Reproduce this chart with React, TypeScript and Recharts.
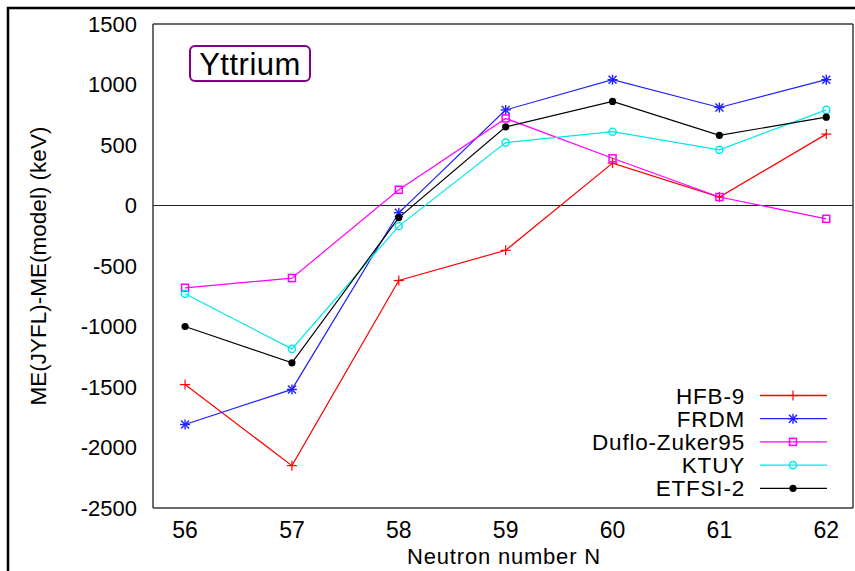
import { LineChart, Line, XAxis, YAxis, ReferenceLine } from "recharts";

const neutronNumbers = [56, 57, 58, 59, 60, 61, 62];
const hfb9 = [-1480, -2150, -620, -370, 350, 70, 590];
const frdm = [-1810, -1520, -60, 790, 1040, 810, 1040];
const dufloZuker95 = [-680, -600, 130, 720, 390, 70, -110];
const ktuy = [-730, -1185, -170, 520, 610, 460, 790];
const etfsi2 = [-1000, -1300, -100, 650, 860, 580, 730];

const yTicks = [-2500, -2000, -1500, -1000, -500, 0, 500, 1000, 1500];
const xTicks = [56, 57, 58, 59, 60, 61, 62];
const xDomain = [55.7, 62.25];
const yDomain = [-2500, 1500];

const data = neutronNumbers.map((n, i) => ({
  n,
  hfb9: hfb9[i],
  frdm: frdm[i],
  dz: dufloZuker95[i],
  ktuy: ktuy[i],
  etfsi: etfsi2[i],
}));

const FONT = "'Liberation Sans', Arial, Helvetica, sans-serif";
const AXIS = "#3a3a3a";

type MarkerProps = { cx: number; cy: number; color: string };

function Plus({ cx, cy, color }: MarkerProps) {
  return (
    <g stroke={color} strokeWidth={1.2}>
      <line x1={cx - 5} y1={cy} x2={cx + 5} y2={cy} />
      <line x1={cx} y1={cy - 5} x2={cx} y2={cy + 5} />
    </g>
  );
}

function Star({ cx, cy, color }: MarkerProps) {
  return (
    <g stroke={color} strokeWidth={1.4}>
      <line x1={cx - 5} y1={cy} x2={cx + 5} y2={cy} />
      <line x1={cx} y1={cy - 5} x2={cx} y2={cy + 5} />
      <line x1={cx - 4} y1={cy - 4} x2={cx + 4} y2={cy + 4} />
      <line x1={cx - 4} y1={cy + 4} x2={cx + 4} y2={cy - 4} />
    </g>
  );
}

function Square({ cx, cy, color }: MarkerProps) {
  return <rect x={cx - 3.5} y={cy - 3.5} width={7} height={7} fill="none" stroke={color} strokeWidth={1.5} />;
}

function OpenCircle({ cx, cy, color }: MarkerProps) {
  return <circle cx={cx} cy={cy} r={3.6} fill="none" stroke={color} strokeWidth={1.4} />;
}

function Dot({ cx, cy, color }: MarkerProps) {
  return <circle cx={cx} cy={cy} r={3.6} fill={color} stroke="none" />;
}

const series = [
  { key: "hfb9", name: "HFB-9", color: "#ff0000", Marker: Plus },
  { key: "frdm", name: "FRDM", color: "#2020ff", Marker: Star },
  { key: "dz", name: "Duflo-Zuker95", color: "#ff00ff", Marker: Square },
  { key: "ktuy", name: "KTUY", color: "#00e8e8", Marker: OpenCircle },
  { key: "etfsi", name: "ETFSI-2", color: "#000000", Marker: Dot },
];

function Overlay() {
  return (
    <svg width={855} height={571} style={{ position: "absolute", left: 0, top: 0, pointerEvents: "none" }}>
      {/* outer figure frame */}
      <rect x={8} y={8} width={900} height={620} fill="none" stroke="#000" strokeWidth={2.5} />

      {/* element tag */}
      <rect x={190} y={46} width={120} height={35} rx={5} fill="#fff" stroke="#800080" strokeWidth={2} />
      <text x={250} y={75} textAnchor="middle" fontSize={31} letterSpacing={0.5} fill="#000">
        Yttrium
      </text>

      <text
        transform="translate(46,266) rotate(-90)"
        textAnchor="middle"
        fontSize={22.5}
        fill="#000"
      >
        ME(JYFL)-ME(model) (keV)
      </text>
      <text x={504} y={564} textAnchor="middle" fontSize={22} letterSpacing={0.8} fill="#000">
        Neutron number N
      </text>

      {series.map((s, i) => {
        const y = 395.5 + i * 23.2;
        const M = s.Marker;
        return (
          <g key={s.key}>
            <text x={745} y={y + 8} textAnchor="end" fontSize={22.5} letterSpacing={0.8} fill="#000">
              {s.name}
            </text>
            <line x1={760} y1={y} x2={827} y2={y} stroke={s.color} strokeWidth={i === 0 ? 1.6 : 1.2} />
            <M cx={793} cy={y} color={s.color} />
          </g>
        );
      })}
    </svg>
  );
}

export default function App() {
  return (
    <div style={{ position: "fixed", left: 0, top: 0, width: 855, height: 571, background: "#fff", fontFamily: FONT }}>
      <LineChart width={855} height={571} data={data} margin={{ top: 24, right: 2, bottom: 23, left: 83 }}>
        <XAxis
          dataKey="n"
          type="number"
          domain={xDomain}
          ticks={xTicks}
          allowDataOverflow
          height={40}
          tickLine={false}
          tickMargin={13}
          tickSize={1}
          axisLine={{ stroke: AXIS, strokeWidth: 1.5 }}
          tick={{ fill: "#000", fontSize: 23 }}
        />
        <XAxis
          xAxisId="bottomTicks"
          type="number"
          orientation="bottom"
          mirror
          domain={xDomain}
          ticks={xTicks}
          allowDataOverflow
          tick={false}
          tickSize={8}
          tickLine={{ stroke: AXIS, strokeWidth: 1.3 }}
          axisLine={false}
        />
        <XAxis
          xAxisId="top"
          type="number"
          orientation="top"
          mirror
          domain={xDomain}
          ticks={xTicks}
          allowDataOverflow
          tick={false}
          tickSize={8}
          tickLine={{ stroke: AXIS, strokeWidth: 1.3 }}
          axisLine={{ stroke: AXIS, strokeWidth: 1.5 }}
        />
        <YAxis
          type="number"
          domain={yDomain}
          ticks={yTicks}
          allowDataOverflow
          width={70}
          tickLine={false}
          tickSize={8}
          tickMargin={8}
          axisLine={{ stroke: AXIS, strokeWidth: 1.5 }}
          tick={{ fill: "#000", fontSize: 22 }}
        />
        <YAxis
          yAxisId="leftTicks"
          type="number"
          orientation="left"
          mirror
          domain={yDomain}
          ticks={yTicks}
          allowDataOverflow
          tick={false}
          tickSize={8}
          tickLine={{ stroke: AXIS, strokeWidth: 1.3 }}
          axisLine={false}
        />
        <YAxis
          yAxisId="right"
          type="number"
          orientation="right"
          mirror
          domain={yDomain}
          ticks={yTicks}
          allowDataOverflow
          tick={false}
          tickSize={7}
          tickLine={{ stroke: AXIS, strokeWidth: 1.3 }}
          axisLine={{ stroke: AXIS, strokeWidth: 1.5 }}
        />
        <ReferenceLine y={0} stroke="#222" strokeWidth={1.2} />
        {series.map((s) => (
          <Line
            key={s.key}
            dataKey={s.key}
            name={s.name}
            type="linear"
            stroke={s.color}
            strokeWidth={1.2}
            isAnimationActive={false}
            dot={(p: any) => <s.Marker key={`${s.key}-${p.index}`} cx={p.cx} cy={p.cy} color={s.color} />}
            activeDot={false}
          />
        ))}
      </LineChart>
      <Overlay />
    </div>
  );
}
